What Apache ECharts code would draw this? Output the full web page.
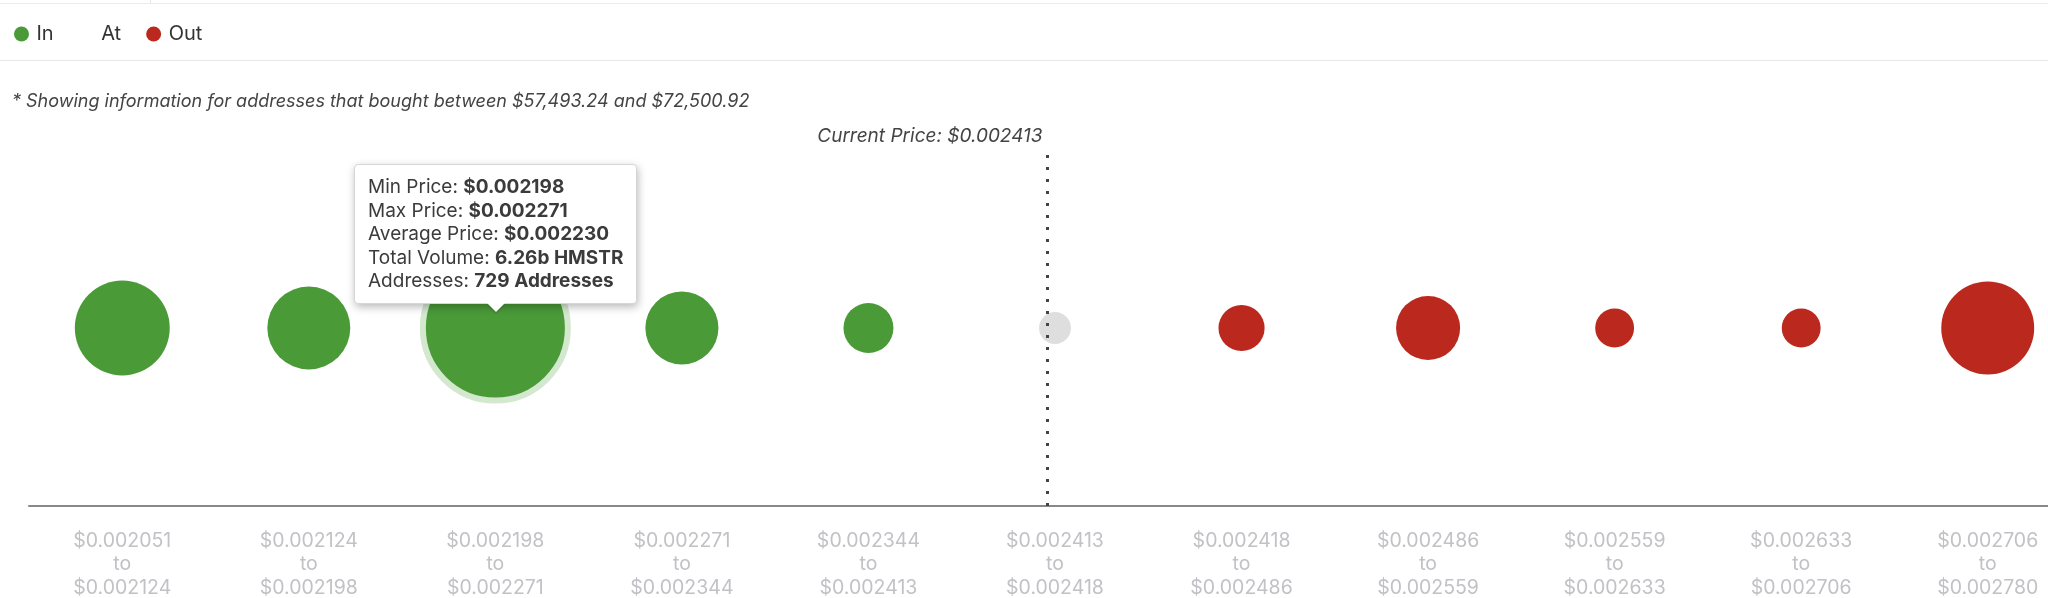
<!DOCTYPE html>
<html>
<head>
<meta charset="utf-8">
<script src="https://cdn.jsdelivr.net/npm/echarts@6/dist/echarts.min.js"></script>
<style>
  html, body { margin: 0; padding: 0; background: #fff; }
  #chart { width: 2048px; height: 598px; }
</style>
</head>
<body>
<div id="chart"></div>
<script>
// ---- data ----
const binMin = [0.002051, 0.002124, 0.002198, 0.002271, 0.002344, 0.002413, 0.002418, 0.002486, 0.002559, 0.002633, 0.002706];
const binMax = [0.002124, 0.002198, 0.002271, 0.002344, 0.002413, 0.002418, 0.002486, 0.002559, 0.002633, 0.002706, 0.002780];
const volumesB = [2.92, 2.23, 6.26, 1.73, 0.81, 0.33, 0.69, 1.33, 0.49, 0.49, 2.80]; // billions HMSTR (estimated)
const avgPrices = [null, null, 0.002230, null, null, null, null, null, null, null, null];
const addresses = [null, null, 729, null, null, null, null, null, null, null, null];
const currentPrice = 0.002413;
const currentPriceSlot = 5.462; // position of the current-price marker along the bins
const boughtLow = '$57,493.24';
const boughtHigh = '$72,500.92';
const tokenSymbol = 'HMSTR';
const hoveredBin = 2;

const colors = { In: '#4a9a38', At: 'rgba(216,216,216,0.85)', Out: '#bb291e' };
const fontFamily = 'Inter, "Noto Sans", sans-serif';

const fmt = v => '$' + v.toFixed(6);
const categories = binMin.map((m, i) => fmt(m) + '\nto\n' + fmt(binMax[i]));
const status = binMin.map((m, i) => binMax[i] <= currentPrice ? 'In' : (m <= currentPrice ? 'At' : 'Out'));

const sizeK = 139 / Math.sqrt(6.26);
function seriesFor(name) {
  const data = [];
  categories.forEach((c, i) => { if (status[i] === name) data.push({ value: [c, '', volumesB[i]], bin: i }); });
  return {
    name, type: 'scatter', xAxisIndex: 0, yAxisIndex: 0, z: 3,
    data,
    symbolSize: v => sizeK * Math.sqrt(v[2]),
    itemStyle: { color: colors[name], opacity: 1 },
    emphasis: { scale: 145 / 139, itemStyle: { color: colors[name], borderColor: '#d3e8ce', borderWidth: 6 } }
  };
}

const chart = echarts.init(document.getElementById('chart'), null, { renderer: 'canvas' });
const option = {
  animation: false,
  textStyle: { fontFamily },
  title: {
    text: '* Showing information for addresses that bought between ' + boughtLow + ' and ' + boughtHigh,
    left: 12, top: 93, padding: 0,
    textStyle: { fontSize: 18, fontStyle: 'italic', fontWeight: 'normal', color: '#444', fontFamily }
  },
  legend: {
    left: 14, top: 24, itemGap: 25, itemWidth: 20, itemHeight: 15, padding: 0,
    icon: 'circle', selectedMode: false,
    textStyle: { fontSize: 20, color: '#333', fontFamily },
    data: ['In', { name: 'At', itemStyle: { opacity: 0 } }, 'Out']
  },
  graphic: [
    { type: 'line', shape: { x1: 0, y1: 3.5, x2: 2048, y2: 3.5 }, style: { stroke: '#ececec', lineWidth: 1 }, silent: true },
    { type: 'line', shape: { x1: 150.5, y1: 0, x2: 150.5, y2: 3 }, style: { stroke: '#e4e4e4', lineWidth: 1 }, silent: true },
    { type: 'line', shape: { x1: 0, y1: 60.5, x2: 2048, y2: 60.5 }, style: { stroke: '#e8e8e8', lineWidth: 1 }, silent: true }
  ],
  grid: { left: 29, top: 150, width: 2052, height: 356, containLabel: false, outerBoundsMode: 'none' },
  xAxis: [
    {
      type: 'category', data: categories, boundaryGap: true,
      axisLine: { lineStyle: { color: '#888', width: 2 } },
      axisTick: { show: false },
      splitLine: { show: false },
      axisLabel: { color: '#c2c2c6', fontSize: 19.5, lineHeight: 23.5, margin: 23, fontFamily, interval: 0 }
    },
    { type: 'value', min: 0, max: categories.length, show: false }
  ],
  yAxis: [{ type: 'category', data: [''], show: false }],
  tooltip: {
    trigger: 'item', alwaysShowContent: true, transitionDuration: 0,
    backgroundColor: '#fff', borderColor: '#d6d6d6', borderWidth: 1, borderRadius: 4,
    padding: [10, 13],
    extraCssText: 'box-shadow: 1px 3px 8px rgba(0,0,0,0.28); overflow: visible;',
    textStyle: { fontSize: 19, color: '#3b3b3b', fontFamily, lineHeight: 24 },
    position: (point, params, dom, rect, size) => [point[0] - size.contentSize[0] / 2, point[1] - size.contentSize[1] - 24],
    formatter: p => {
      const i = p.data.bin;
      const b = s => '<b style="font-weight:700">' + s + '</b>';
      const lines = [
        'Min Price: ' + b(fmt(binMin[i])),
        'Max Price: ' + b(fmt(binMax[i])),
        'Average Price: ' + b(avgPrices[i] != null ? fmt(avgPrices[i]) : '-'),
        'Total Volume: ' + b(volumesB[i].toFixed(2) + 'b ' + tokenSymbol),
        'Addresses: ' + b((addresses[i] != null ? addresses[i] : '-') + ' Addresses')
      ];
      const arrow = '<div style="position:absolute;left:50%;bottom:-9px;margin-left:-9px;width:0;height:0;border-left:9px solid transparent;border-right:9px solid transparent;border-top:9px solid #fff;filter:drop-shadow(0 2px 1px rgba(0,0,0,0.15));"></div>';
      return '<div style="line-height:23.5px">' + lines.join('<br>') + '</div>' + arrow;
    }
  },
  series: [
    {
      name: 'Current Price', type: 'line', xAxisIndex: 1, yAxisIndex: 0, data: [], z: 1, silent: true,
      markLine: {
        silent: true, symbol: ['none', 'none'], animation: false,
        lineStyle: { color: '#444', width: 3, type: [3, 9], cap: 'butt' },
        label: {
          show: true, position: 'end', align: 'right', offset: [-5, 0], distance: 4,
          formatter: 'Current Price: ' + fmt(currentPrice),
          fontSize: 19, fontStyle: 'italic', color: '#444', fontFamily
        },
        emphasis: { disabled: true },
        data: [{ xAxis: currentPriceSlot }]
      }
    },
    seriesFor('In'),
    seriesFor('At'),
    seriesFor('Out')
  ]
};
chart.setOption(option);

const hoveredSeries = ['In', 'At', 'Out'].indexOf(status[hoveredBin]) + 1;
const hoveredIdx = option.series[hoveredSeries].data.findIndex(d => d.bin === hoveredBin);
chart.dispatchAction({ type: 'highlight', seriesIndex: hoveredSeries, dataIndex: hoveredIdx });
chart.dispatchAction({ type: 'showTip', seriesIndex: hoveredSeries, dataIndex: hoveredIdx });
</script>
</body>
</html>
